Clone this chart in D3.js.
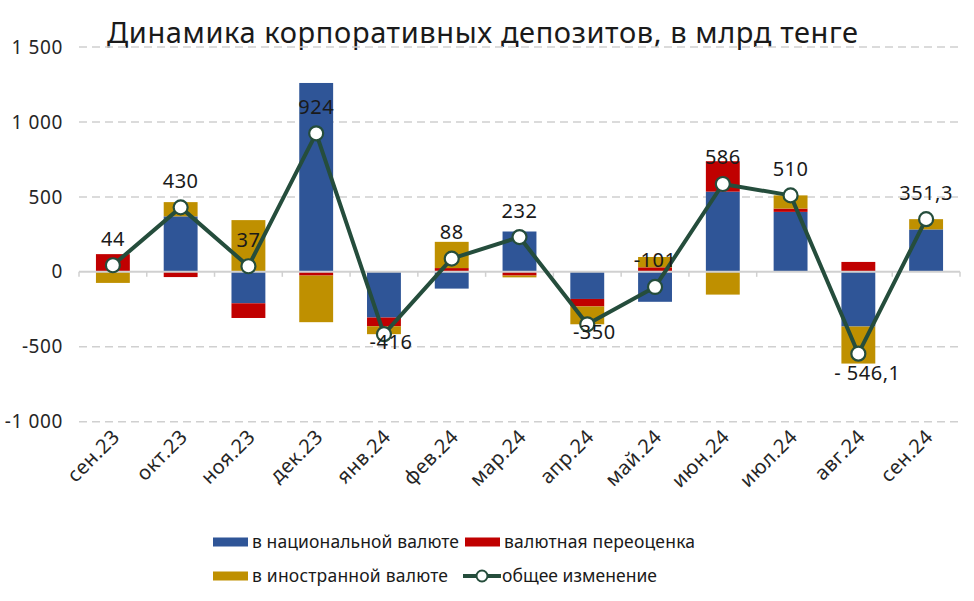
<!DOCTYPE html>
<html>
<head>
<meta charset="utf-8">
<script src="https://cdn.jsdelivr.net/npm/d3@7/dist/d3.min.js"></script>
<style>
  html, body { margin: 0; padding: 0; background: #ffffff; }
  svg { display: block; font-family: "Noto Sans", "Open Sans", sans-serif; }
</style>
</head>
<body>
<svg id="chart" width="974" height="601"></svg>
<script>
// ---- data ----
const categories = ["сен.23","окт.23","ноя.23","дек.23","янв.24","фев.24","мар.24","апр.24","май.24","июн.24","июл.24","авг.24","сен.24"];
const nationalCurrency = [0, 370, -210, 1260, -305, -112, 269, -181, -200, 535, 400, -365, 283];
const fxRevaluation   = [118, -35, -98, -25, -58, 25, -25, -50, 30, 203, 22, 66, 0];
const foreignCurrency = [-74, 95, 345, -311, -53, 175, -12, -119, 69, -152, 88, -247.1, 68.3];
const totalChange     = [44, 430, 37, 924, -416, 88, 232, -350, -101, 586, 510, -546.1, 351.3];
const totalLabels     = ["44","430","37","924","-416","88","232","-350","-101","586","510","- 546,1","351,3"];
const labelPlacement  = ["above","above","above","above","below","above","above","below","above","above","above","under","above"];
const yTicks = [-1000, -500, 0, 500, 1000, 1500];
const seriesNames = ["в национальной валюте","валютная переоценка","в иностранной валюте","общее изменение"];
const title = "Динамика корпоративных депозитов, в млрд тенге";

// ---- styles ----
const colors = { nat: "#2F5597", rev: "#C00000", fx: "#BF9000", line: "#254D3C" };

const svg = d3.select("#chart");
const x = d3.scaleBand().domain(categories).range([79, 960]).paddingInner(0.5).paddingOuter(0.25);
const y = d3.scaleLinear().domain([-1000, 1500]).range([421.7, 47]);

// title
svg.append("text").attr("x", 107).attr("y", 43)
  .attr("font-size", 29).attr("fill", "#1a1a1a")
  .attr("textLength", 751).attr("lengthAdjust", "spacing")
  .text(title);

// gridlines
svg.append("g").selectAll("line").data(yTicks.filter(d => d !== 0)).join("line")
  .attr("x1", 79).attr("x2", 960)
  .attr("y1", d => y(d)).attr("y2", d => y(d))
  .attr("stroke", "#D0D0D0").attr("stroke-width", 1.5).attr("stroke-dasharray", "8,5");

// y axis labels
const fmt = v => {
  const s = Math.abs(v) >= 1000 ? d3.format(",")(Math.abs(v)).replace(",", " ") : String(Math.abs(v));
  return (v < 0 ? "-" : "") + s;
};
svg.append("g").selectAll("text").data(yTicks).join("text")
  .attr("x", 63).attr("y", d => y(d)).attr("dy", "0.35em")
  .attr("text-anchor", "end").attr("font-size", 19).attr("letter-spacing", 0.6).attr("fill", "#262626")
  .text(fmt);

// stacked bars
const table = categories.map((c, i) => ({ cat: c, nat: nationalCurrency[i], rev: fxRevaluation[i], fx: foreignCurrency[i] }));
const stack = d3.stack().keys(["nat", "rev", "fx"]).offset(d3.stackOffsetDiverging);
const layers = stack(table);
svg.append("g").selectAll("g").data(layers).join("g")
  .attr("fill", d => colors[d.key])
  .selectAll("rect").data(d => d).join("rect")
  .attr("x", d => x(d.data.cat))
  .attr("width", x.bandwidth())
  .attr("y", d => y(Math.max(d[0], d[1])))
  .attr("height", d => Math.abs(y(d[0]) - y(d[1])));

// zero axis line with category ticks
const axisG = svg.append("g");
axisG.append("line").attr("x1", 79).attr("x2", 960).attr("y1", y(0)).attr("y2", y(0))
  .attr("stroke", "#D0D0D0").attr("stroke-width", 2);
const boundaries = categories.map(c => x(c) - x.step() * x.paddingInner() / 2).concat([960]);
axisG.selectAll("line.tick").data(boundaries).join("line").attr("class", "tick")
  .attr("x1", d => d).attr("x2", d => d).attr("y1", y(0)).attr("y2", y(0) + 5)
  .attr("stroke", "#D0D0D0").attr("stroke-width", 1.5);

// category labels
svg.append("g").selectAll("text").data(categories).join("text")
  .attr("transform", d => `translate(${x(d) + x.bandwidth() / 2 + 8},${438}) rotate(-45)`)
  .attr("text-anchor", "end").attr("font-size", 20).attr("letter-spacing", 0.5).attr("fill", "#262626")
  .text(d => d);

// total line
const cx = i => x(categories[i]) + x.bandwidth() / 2;
const line = d3.line().x((d, i) => cx(i)).y(d => y(d));
svg.append("path").datum(totalChange).attr("d", line)
  .attr("fill", "none").attr("stroke", colors.line).attr("stroke-width", 4).attr("stroke-linejoin", "round");
svg.append("g").selectAll("circle").data(totalChange).join("circle")
  .attr("cx", (d, i) => cx(i)).attr("cy", d => y(d)).attr("r", 7)
  .attr("fill", "#ffffff").attr("stroke", colors.line).attr("stroke-width", 2.2);

// total labels
const off = { above: [0, -19.5], below: [7, 14.5], under: [9, 26.5] };
svg.append("g").selectAll("text").data(totalChange).join("text")
  .attr("x", (d, i) => cx(i) + off[labelPlacement[i]][0])
  .attr("y", (d, i) => y(d) + off[labelPlacement[i]][1])
  .attr("text-anchor", "middle").attr("font-size", 20).attr("letter-spacing", 0.5).attr("fill", "#1a1a1a")
  .text((d, i) => totalLabels[i]);

// legend
const leg = svg.append("g");
const legItems = [
  { name: seriesNames[0], type: "rect", color: colors.nat, x: 213, y: 542, w: 207 },
  { name: seriesNames[1], type: "rect", color: colors.rev, x: 465, y: 542, w: 191 },
  { name: seriesNames[2], type: "rect", color: colors.fx, x: 213, y: 576, w: 196 },
  { name: seriesNames[3], type: "line", color: colors.line, x: 463, y: 576, w: 155 }
];
legItems.forEach(it => {
  if (it.type === "rect") {
    leg.append("rect").attr("x", it.x).attr("y", it.y - 4.5).attr("width", 35).attr("height", 9).attr("fill", it.color);
  } else {
    leg.append("line").attr("x1", it.x).attr("x2", it.x + 38).attr("y1", it.y).attr("y2", it.y)
      .attr("stroke", it.color).attr("stroke-width", 4);
    leg.append("circle").attr("cx", it.x + 19).attr("cy", it.y).attr("r", 5.5)
      .attr("fill", "#fff").attr("stroke", it.color).attr("stroke-width", 2);
  }
  leg.append("text").attr("x", it.x + 39).attr("y", it.y).attr("dy", "0.35em")
    .attr("font-size", 17.5).attr("fill", "#1a1a1a")
    .attr("textLength", it.w).attr("lengthAdjust", "spacing")
    .text(it.name);
});
</script>
</body>
</html>
